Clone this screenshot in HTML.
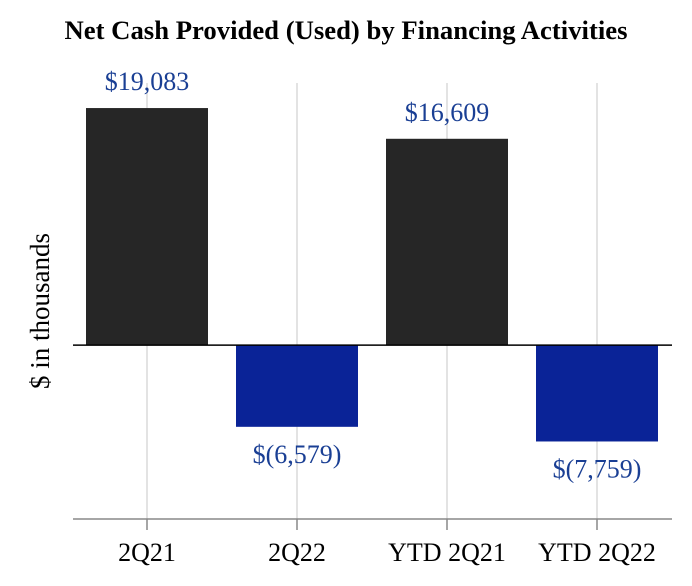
<!DOCTYPE html>
<html><head><meta charset="utf-8"><style>
body{margin:0;background:#fff;}
svg{display:block;font-family:"Liberation Serif",serif;}
</style></head><body>
<svg id="chart" width="692" height="586">
<text x="346" y="39" text-anchor="middle" font-size="26" font-weight="bold" fill="#000" textLength="563" lengthAdjust="spacingAndGlyphs">Net Cash Provided (Used) by Financing Activities</text>
<text transform="translate(49,311) rotate(-90)" text-anchor="middle" font-size="27" fill="#000">$ in thousands</text>
<g id="grid"></g><g id="bars"></g><g id="labels"></g><g id="axes"></g>
</svg>
<script>
const categories=["2Q21","2Q22","YTD 2Q21","YTD 2Q22"];
const values=[19083,-6579,16609,-7759];
const valueLabels=["$19,083","$(6,579)","$16,609","$(7,759)"];
const NS="http://www.w3.org/2000/svg";
const yMin=-14000,yMax=21100,pyBot=519,pyTop=83;
function y(v){return pyBot-(v-yMin)/(yMax-yMin)*(pyBot-pyTop);}
const x0=72,band=150;
function xc(i){return x0+band*i+band/2;}
function mk(tag,attrs,parent){const e=document.createElementNS(NS,tag);for(const k in attrs)e.setAttribute(k,attrs[k]);parent.appendChild(e);return e;}
const grid=document.getElementById('grid'),bars=document.getElementById('bars'),labels=document.getElementById('labels'),axes=document.getElementById('axes');
categories.forEach((c,i)=>{
  const g=mk('line',{x1:xc(i),x2:xc(i),y1:pyTop,y2:pyBot,stroke:'#e3e3e3','stroke-width':2},grid);
  
  
  const v=values[i],top=Math.min(y(v),y(0)),h=Math.abs(y(v)-y(0));
  const r=mk('rect',{x:xc(i)-61,y:top,width:122,height:h,fill:v>=0?'#262626':'#0a2397'},bars);
  
  
  const ly=v>=0?y(v)-18:y(v)+36;
  const t=mk('text',{x:xc(i),y:ly,'text-anchor':'middle','font-size':26,fill:'#1a3f94'},labels);
  t.textContent=valueLabels[i];
  
  
  const tk=mk('line',{x1:xc(i),x2:xc(i),y1:pyBot,y2:pyBot+11,stroke:'#888','stroke-width':1.5},axes);
  
  
  const tl=mk('text',{x:xc(i),y:561,'text-anchor':'middle','font-size':26,fill:'#000'},axes);
  tl.textContent=c;
  
  
});
const zl=mk('line',{x1:73,x2:672,y1:y(0),y2:y(0),stroke:'#000','stroke-width':1.5},axes);


const xa=mk('line',{x1:73,x2:672,y1:pyBot,y2:pyBot,stroke:'#888','stroke-width':1.5},axes);


</script>
</body></html>
